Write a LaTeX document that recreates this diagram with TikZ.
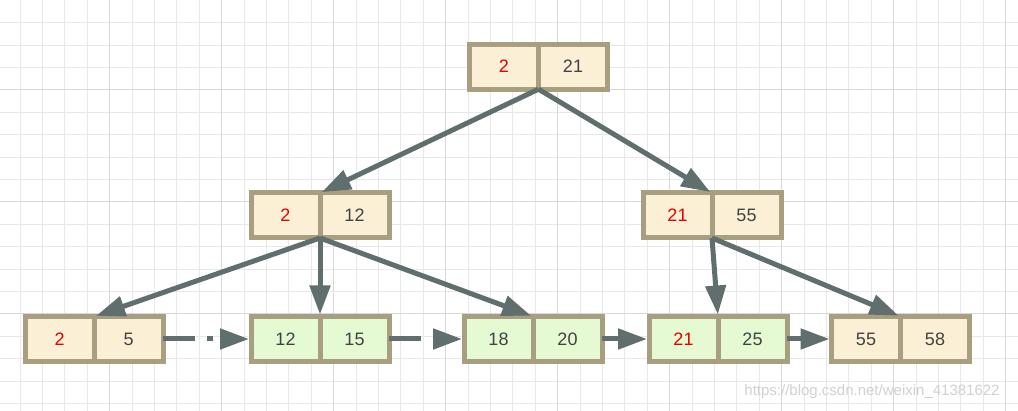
\documentclass[tikz,border=0pt]{standalone}
\usepackage{fontspec}
\setmainfont{Liberation Sans}
\usetikzlibrary{arrows.meta,positioning}
\definecolor{frametan}{RGB}{168,158,128}
\definecolor{cream}{RGB}{251,240,213}
\definecolor{leafgreen}{RGB}{229,250,210}
\definecolor{linkgray}{RGB}{96,110,110}
\definecolor{keyred}{RGB}{230,0,0}
\definecolor{keygray}{RGB}{66,66,66}
\definecolor{gridminor}{RGB}{232,232,232}
\definecolor{gridmajor}{RGB}{216,216,216}

\begin{document}
\begin{tikzpicture}[x=1pt,y=-1pt]
        \tikzstyle{every node}=[font=\fontsize{18}{21}\selectfont, text=keygray]
        \tikzstyle{cell}=[draw=frametan, line width=5pt, minimum width=69pt, minimum height=45pt, inner sep=0pt, outer sep=0pt]
        \tikzstyle{keycell}=[cell, fill=cream]
        \tikzstyle{leafcell}=[cell, fill=leafgreen]
        \tikzstyle{link}=[draw=linkgray, line width=5pt, shorten >=2pt, -{Triangle[length=29pt,width=20pt]}]
        \tikzstyle{nextlink}=[link, dash pattern=on 32pt off 12pt on 6pt off 12pt]

        \useasboundingbox (0,0) rectangle (1018,411);
        \fill [white] (0,0) rectangle (1018,411);
        %grid paper
        \foreach \i in {0,...,44} \draw [gridminor, line width=1pt] ({20+22.4*\i},0) -- ++(0,411);
        \foreach \j in {1,...,18} \draw [gridminor, line width=1pt] (0,{0.3+22.4*\j}) -- ++(1018,0);
        \foreach \i in {4,9,...,44} \draw [gridmajor, line width=1pt] ({20+22.4*\i},0) -- ++(0,411);
        \foreach \j in {4,9,14} \draw [gridmajor, line width=1pt] (0,{0.3+22.4*\j}) -- ++(1018,0);

        %root
        \node[keycell] (r1) at (504,66.7) {\textcolor{keyred}{2}};
        \node[keycell, right=0pt of r1] (r2) {21};

        %index level
        \node[keycell] (a1) at (285.5,215.5) {\textcolor{keyred}{2}};
        \node[keycell, right=0pt of a1] (a2) {12};
        \node[keycell] (b1) at (677.5,215.5) {\textcolor{keyred}{21}};
        \node[keycell, right=0pt of b1] (b2) {55};

        %leaves
        \node[keycell] (l1) at (59.7,339) {\textcolor{keyred}{2}};
        \node[keycell, right=0pt of l1] (l2) {5};
        \node[leafcell] (m1) at (285.5,339) {12};
        \node[leafcell, right=0pt of m1] (m2) {15};
        \node[leafcell] (n1) at (498.5,339) {18};
        \node[leafcell, right=0pt of n1] (n2) {20};
        \node[leafcell] (p1) at (683.5,339) {\textcolor{keyred}{21}};
        \node[leafcell, right=0pt of p1] (p2) {25};
        \node[keycell] (q1) at (866,339) {55};
        \node[keycell, right=0pt of q1] (q2) {58};

        \draw [link] (r1.south east) -- (a1.north east);
        \draw [link] (r1.south east) -- (b1.north east);
        \draw [link] (a1.south east) -- (l1.north east);
        \draw [link] (a1.south east) -- (m1.north east);
        \draw [link] (a1.south east) -- (n1.north east);
        \draw [link] (b1.south east) -- (p1.north east);
        \draw [link] (b1.south east) -- (q1.north east);

        %leaf chain
        \draw [nextlink] (l2.east) -- (m1.west);
        \draw [nextlink] (m2.east) -- (n1.west);
        \draw [link] (n2.east) -- (p1.west);
        \draw [link] (p2.east) -- (q1.west);

        \node[font=\fontsize{15}{18}\selectfont, text=black!18] (mark) at (872,392) {https://blog.csdn.net/weixin\_41381622};
\end{tikzpicture}
\end{document}
